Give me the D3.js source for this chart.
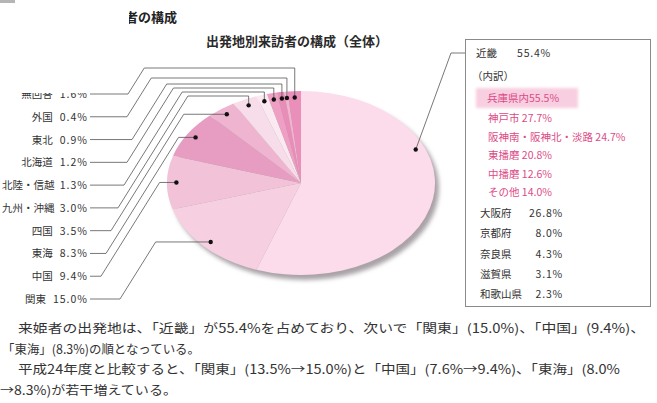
<!DOCTYPE html>
<html><head><meta charset="utf-8">
<script src="https://cdn.jsdelivr.net/npm/d3@7"></script>
<style>body{margin:0;background:#fff}svg{display:block}</style>
</head><body><svg id="c" width="657" height="403"></svg>
<script>
// ---- data ----
const regions = ["近畿","関東","中国","東海","四国","九州・沖縄","北陸・信越","北海道","東北","外国","無回答"];
const shares  = [55.4, 15.0, 9.4, 8.3, 3.5, 3.0, 1.3, 1.2, 0.9, 0.4, 1.6];
const sliceColors = ["#fcdcea","#f6cfe1","#f2c2d8","#e79dc1","#efb5d0","#f7dce9","#fbe9f1","#ee9fc3","#e88db7","#f2b4d0","#e98fb9"];
const leftLabelOrder = ["無回答","外国","東北","北海道","北陸・信越","九州・沖縄","四国","東海","中国","関東"];
const hyogoShare = 55.5;
const hyogoAreas = ["神戸市","阪神南・阪神北・淡路","東播磨","中播磨","その他"];
const hyogoValues = [27.7, 24.7, 20.8, 12.6, 14.0];
const kinkiPrefs = ["大阪府","京都府","奈良県","滋賀県","和歌山県"];
const kinkiValues = [26.8, 8.0, 4.3, 3.1, 2.3];
const titleText = "出発地別来訪者の構成（全体）";
const headingText = "者の構成";
const paragraph = [
  "来姫者の出発地は、「近畿」が55.4%を占めており、次いで「関東」(15.0%)、「中国」(9.4%)、",
  "「東海」(8.3%)の順となっている。",
  "平成24年度と比較すると、「関東」(13.5%→15.0%)と「中国」(7.6%→9.4%)、「東海」(8.0%",
  "→8.3%)が若干増えている。"
];

// ---- layout ----
const FONT = "'Noto Sans CJK JP','Noto Sans',sans-serif";
const svg = d3.select("#c");
const cx = 301, cy = 183, rx = 134, ry = 92, dotK = 0.93;
const fmt = v => d3.format(".1f")(v) + "%";

const defs = svg.append("defs");
defs.append("filter").attr("id","blur").attr("x","-10%").attr("y","-10%").attr("width","120%").attr("height","120%")
  .append("feGaussianBlur").attr("stdDeviation", 2.2);
defs.append("filter").attr("id","soft").attr("x","-10%").attr("y","-30%").attr("width","120%").attr("height","160%")
  .append("feGaussianBlur").attr("stdDeviation", 1.5);
defs.append("clipPath").attr("id","clipTopLabel").append("rect").attr("x",0).attr("y",93).attr("width",120).attr("height",20);
defs.append("clipPath").attr("id","clipHead").append("rect").attr("x",129).attr("y",0).attr("width",200).attr("height",40);

// top-left gray mark
svg.append("rect").attr("x",0).attr("y",0).attr("width",15).attr("height",3).attr("fill","#b5b5b5");

// heading (partially covered)
svg.append("text").attr("x",125).attr("y",22).attr("clip-path","url(#clipHead)")
  .attr("font-family",FONT).attr("font-size",13).attr("font-weight","bold").attr("fill","#222").text(headingText);

// title
svg.append("text").attr("x",297).attr("y",46).attr("text-anchor","middle")
  .attr("font-family",FONT).attr("font-size",13).attr("font-weight","bold").attr("fill","#2a2a2a").text(titleText);

// ---- pie ----
const pie = d3.pie().sort(null).value(d => d)(shares);
const arc = d3.arc().innerRadius(0).outerRadius(ry);
svg.append("ellipse").attr("cx",cx+4).attr("cy",cy+5).attr("rx",rx).attr("ry",ry)
  .attr("fill","#a9a3a7").attr("filter","url(#blur)");
const pg = svg.append("g").attr("transform",`translate(${cx},${cy}) scale(${rx/ry},1)`);
pg.selectAll("path").data(pie).join("path")
  .attr("d", arc).attr("fill",(d,i)=>sliceColors[i]);

const dotPos = a => [cx + rx*dotK*Math.sin(a), cy - ry*dotK*Math.cos(a)];

// ---- left labels ----
const rowY = d3.scaleLinear().domain([0, leftLabelOrder.length-1]).range([94, 299]);
const kneeX = [128, 127, 132, 127, 124, 118, 111, 106, 101, 120];
const topRowY = [68, 78, 84, 88, 92, 96];
const slope = 1.6;
const lineG = svg.append("g").attr("fill","none").attr("stroke","#555").attr("stroke-width",0.8);
const dotG = svg.append("g");
const labG = svg.append("g").attr("font-family",FONT).attr("font-size",10.5).attr("fill","#333");

leftLabelOrder.forEach((name,j)=>{
  const s = regions.indexOf(name);
  const p = pie[s];
  const [dx, dy] = dotPos((p.startAngle+p.endAngle)/2);
  const ly = rowY(j);
  const hy = j < topRowY.length ? topRowY[j] : dy;
  const sx = kneeX[j] + (ly - hy)/slope;
  const pts = [[90,ly],[kneeX[j],ly],[sx,hy],[dx,hy],[dx,dy]];
  lineG.append("path").attr("d", d3.line()(pts));
  dotG.append("circle").attr("cx",dx).attr("cy",dy).attr("r",2.2).attr("fill","#111");
  const g = labG.append("g");
  if (j === 0) g.attr("clip-path","url(#clipTopLabel)");
  const vt = g.append("text").attr("x",88).attr("y",ly+4).attr("text-anchor","end")
    .attr("letter-spacing",1.0).text(fmt(shares[s]));
  const w = vt.node().getComputedTextLength();
  const nt = g.append("text").attr("x",88-w-7).attr("y",ly+4).attr("text-anchor","end").text(name);
  const nw = nt.node().getComputedTextLength();
  if (88-w-7-nw < 2) nt.attr("x", 2 + nw);
});

// ---- Kinki connector ----
const kinkiDotAngle = 67*Math.PI/180;
const [kx, ky] = dotPos(kinkiDotAngle);
lineG.append("path").attr("d", d3.line()([[kx,ky],[451,53],[474,53]]));
dotG.append("circle").attr("cx",kx).attr("cy",ky).attr("r",2.2).attr("fill","#111");

// ---- right box ----
svg.append("rect").attr("x",465.5).attr("y",39.5).attr("width",185).attr("height",267)
  .attr("fill","#fff").attr("stroke","#8a8a8a").attr("stroke-width",1);
svg.append("rect").attr("x",476).attr("y",88).attr("width",102).attr("height",20)
  .attr("fill","#f8cfe0").attr("filter","url(#soft)");
const bx = svg.append("g").attr("font-family",FONT).attr("font-size",10.5);
bx.append("text").attr("x",476).attr("y",57).attr("fill","#333").text(regions[0]);
bx.append("text").attr("x",517).attr("y",57).attr("fill","#333").attr("letter-spacing",0.8).text(fmt(shares[0]));
bx.append("text").attr("x",472).attr("y",80).attr("fill","#333").text("（内訳）");
bx.append("text").attr("x",487).attr("y",102).attr("fill","#dc4b86").text("兵庫県内" + fmt(hyogoShare));
const pinkY = d3.scaleLinear().domain([0,hyogoAreas.length-1]).range([122,196]);
hyogoAreas.forEach((n,i)=>{
  bx.append("text").attr("x",488).attr("y",pinkY(i)).attr("fill","#dc4b86")
    .text(n + " " + fmt(hyogoValues[i]));
});
const blackY = d3.scaleLinear().domain([0,kinkiPrefs.length-1]).range([217,298]);
kinkiPrefs.forEach((n,i)=>{
  bx.append("text").attr("x",480).attr("y",blackY(i)).attr("fill","#333").text(n);
  bx.append("text").attr("x",563).attr("y",blackY(i)).attr("fill","#333").attr("text-anchor","end")
    .attr("letter-spacing",0.8).text(fmt(kinkiValues[i]));
});

// ---- paragraph ----
const paraX = [18, 2, 18, 0];
const paraLen = [627, 198, 602, 177];
const paraY = d3.scaleLinear().domain([0,3]).range([333, 395]);
const pt = svg.append("g").attr("font-family",FONT).attr("font-size",12.5).attr("fill","#333");
paragraph.forEach((t,i)=>{
  pt.append("text").attr("x",paraX[i]).attr("y",paraY(i))
    .attr("textLength",paraLen[i]).attr("lengthAdjust","spacingAndGlyphs").text(t);
});
</script>
</body></html>
